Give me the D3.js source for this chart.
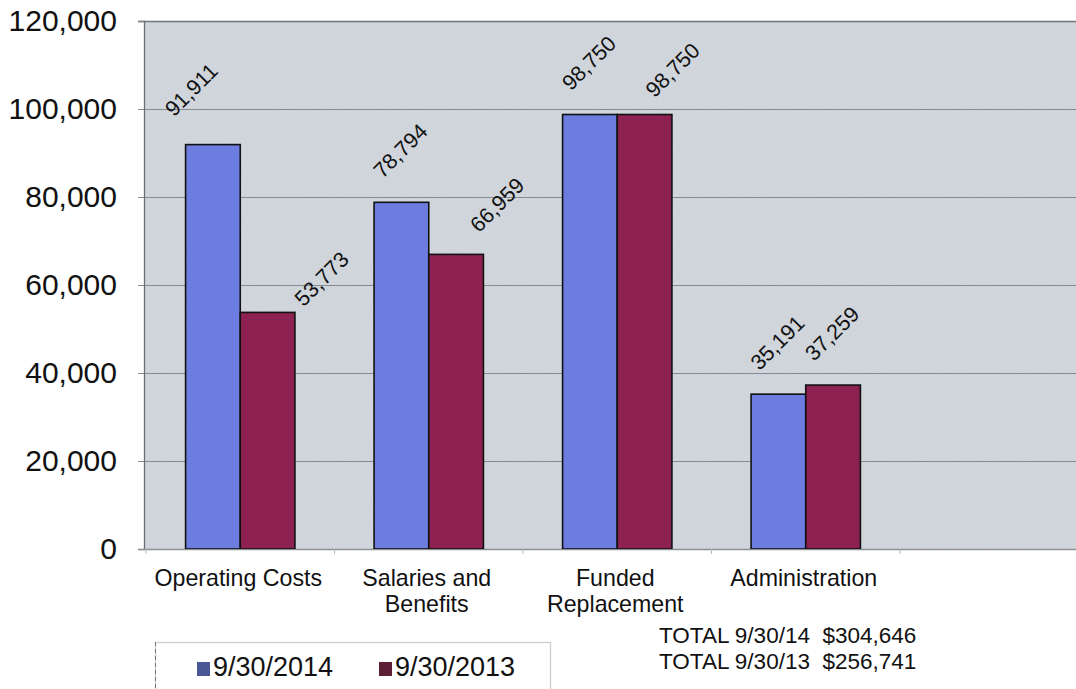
<!DOCTYPE html>
<html>
<head>
<meta charset="utf-8">
<script src="https://cdn.jsdelivr.net/npm/d3@7"></script>
<style>
  html, body { margin: 0; padding: 0; background: #fff; }
  svg { display: block; font-family: "Liberation Sans", Arial, sans-serif; }
</style>
</head>
<body>
<svg id="chart" width="1076" height="689"></svg>
<script>
// Expense categories (the fifth slot is an empty category on the axis)
const categories = ["Operating Costs", "Salaries and\nBenefits", "Funded\nReplacement", "Administration", ""];
const seriesNames = ["9/30/2014", "9/30/2013"];
const values2014 = [91911, 78794, 98750, 35191];
const values2013 = [53773, 66959, 98750, 37259];
const yTicks = [0, 20000, 40000, 60000, 80000, 100000, 120000];
const totalLines = ["TOTAL 9/30/14  $304,646", "TOTAL 9/30/13  $256,741"];

const colors = ["#6c7ddf", "#8c2152"];
const legendColors = ["#4b5898", "#5c1f36"];

// Label placement relative to the bar's centre/top; a few labels are pushed
// aside so they do not collide with a neighbouring bar or label.
const labelOffset = [-19, -23];
const labelShift = { "0-0": [-20, -4], "1-0": [55, 18], "1-1": [42, 2], "1-2": [29, 7] };

const svg = d3.select("#chart");
const plot = { left: 144, top: 21, bottom: 549, right: 1076 };

const y = d3.scaleLinear().domain([0, 120000]).range([plot.bottom, plot.top]);
const step = 188.5;
const x = d3.scaleBand()
  .domain(d3.range(categories.length))
  .range([146, 146 + step * categories.length])
  .padding(0);

// Mottled background texture of the plot area
const defs = svg.append("defs");
const f = defs.append("filter").attr("id", "grain").attr("x", 0).attr("y", 0).attr("width", 1).attr("height", 1);
f.append("feTurbulence").attr("type", "fractalNoise").attr("baseFrequency", "0.8 0.3").attr("numOctaves", 2).attr("seed", 7).attr("result", "n");
f.append("feColorMatrix").attr("in", "n").attr("type", "matrix")
  .attr("values", "0 0 0 0 0.6  0 0 0 0 0.63  0 0 0 0 0.67  1.2 0 0 0 -0.4");
defs.append("clipPath").attr("id", "plotClip").append("rect")
  .attr("x", plot.left).attr("y", plot.top).attr("width", plot.right - plot.left).attr("height", plot.bottom - plot.top);

svg.append("rect")
  .attr("x", plot.left).attr("y", plot.top)
  .attr("width", plot.right - plot.left).attr("height", plot.bottom - plot.top)
  .attr("fill", "#d0d6dc");
svg.append("rect")
  .attr("x", plot.left).attr("y", plot.top)
  .attr("width", plot.right - plot.left).attr("height", plot.bottom - plot.top)
  .attr("filter", "url(#grain)").attr("opacity", 0.45);

// Gridlines
svg.append("g").selectAll("line")
  .data(yTicks.filter(d => d > 0))
  .join("line")
  .attr("x1", plot.left - 6).attr("x2", plot.right)
  .attr("y1", d => y(d) + 0.5).attr("y2", d => y(d) + 0.5)
  .attr("stroke", d => d === 120000 ? "#6f747a" : "#858a90")
  .attr("stroke-width", d => d === 120000 ? 1.6 : 1.1);

// Y axis
const yAxis = svg.append("g")
  .attr("transform", `translate(${plot.left},0)`)
  .call(d3.axisLeft(y).tickValues(yTicks).tickFormat(d3.format(",")).tickSize(6).tickPadding(21));
yAxis.select(".domain").attr("stroke", "#6a6e73").attr("stroke-width", 1.3);
yAxis.selectAll(".tick line").attr("stroke", "#8a8e93");
yAxis.selectAll(".tick text")
  .attr("font-size", 30).attr("fill", "#111")
  .attr("font-family", "'Liberation Sans', Arial, sans-serif");

// Category axis baseline and boundary ticks
svg.append("line")
  .attr("x1", plot.left).attr("x2", plot.right)
  .attr("y1", plot.bottom + 0.5).attr("y2", plot.bottom + 0.5)
  .attr("stroke", "#8c9095").attr("stroke-width", 1.3);
svg.append("g").selectAll("line")
  .data(d3.range(categories.length + 1))
  .join("line")
  .attr("x1", i => (i < categories.length ? x(i) : x(categories.length - 1) + x.bandwidth()))
  .attr("x2", i => (i < categories.length ? x(i) : x(categories.length - 1) + x.bandwidth()))
  .attr("y1", plot.bottom).attr("y2", plot.bottom + 5)
  .attr("stroke", "#b5b8bc");

// Bars
const barW = x.bandwidth() * 0.29;
const bars = [];
[values2014, values2013].forEach((vals, s) => {
  vals.forEach((v, i) => {
    const cx = x(i) + x.bandwidth() / 2;
    bars.push({ s, i, v, x: s === 0 ? cx - barW : cx });
  });
});

const barG = svg.append("g").attr("clip-path", "url(#plotClip)");
barG.selectAll("rect")
  .data(bars)
  .join("rect")
  .attr("x", d => d.x)
  .attr("y", d => y(d.v))
  .attr("width", barW)
  .attr("height", d => y(0) - y(d.v))
  .attr("fill", d => colors[d.s])
  .attr("stroke", "#111")
  .attr("stroke-width", 1.6);

// Value labels, rotated 45°
const fmt = d3.format(",");
svg.append("g").selectAll("text")
  .data(bars)
  .join("text")
  .attr("transform", d => {
    const shift = labelShift[`${d.s}-${d.i}`] || [0, 0];
    const lx = d.x + barW / 2 + labelOffset[0] + shift[0];
    const ly = y(d.v) + labelOffset[1] + shift[1];
    return `translate(${lx},${ly}) rotate(-45)`;
  })
  .attr("font-size", 21.5)
  .attr("fill", "#111")
  .text(d => fmt(d.v));

// Category labels
const catG = svg.append("g");
categories.forEach((c, i) => {
  if (!c) return;
  const cx = x(i) + x.bandwidth() / 2 - 2;
  const t = catG.append("text")
    .attr("x", cx)
    .attr("y", 586)
    .attr("text-anchor", "middle")
    .attr("font-size", 23.2)
    .attr("fill", "#111");
  c.split("\n").forEach((line, k) => {
    t.append("tspan")
      .attr("x", cx)
      .attr("dy", k === 0 ? 0 : 26)
      .text(line);
  });
});

// Totals
svg.append("g").selectAll("text")
  .data(totalLines)
  .join("text")
  .attr("x", 659)
  .attr("y", (d, k) => 643 + k * 26)
  .attr("font-size", 22.5)
  .attr("fill", "#111")
  .style("white-space", "pre")
  .attr("xml:space", "preserve")
  .text(d => d);

// Legend
const lg = svg.append("g");
lg.append("rect")
  .attr("x", 155.5).attr("y", 642.5).attr("width", 395).attr("height", 60)
  .attr("fill", "#fff").attr("stroke", "#cbcbcb").attr("stroke-width", 1.2);
lg.append("line")
  .attr("x1", 155.5).attr("x2", 155.5).attr("y1", 642).attr("y2", 689)
  .attr("stroke", "#777").attr("stroke-dasharray", "4 3");
const legendX = [197, 379];
seriesNames.forEach((name, s) => {
  lg.append("rect")
    .attr("x", legendX[s]).attr("y", 662).attr("width", 13).attr("height", 14)
    .attr("fill", legendColors[s]);
  lg.append("text")
    .attr("x", legendX[s] + 16).attr("y", 676)
    .attr("font-size", 27).attr("fill", "#111")
    .text(name);
});
</script>
</body>
</html>
